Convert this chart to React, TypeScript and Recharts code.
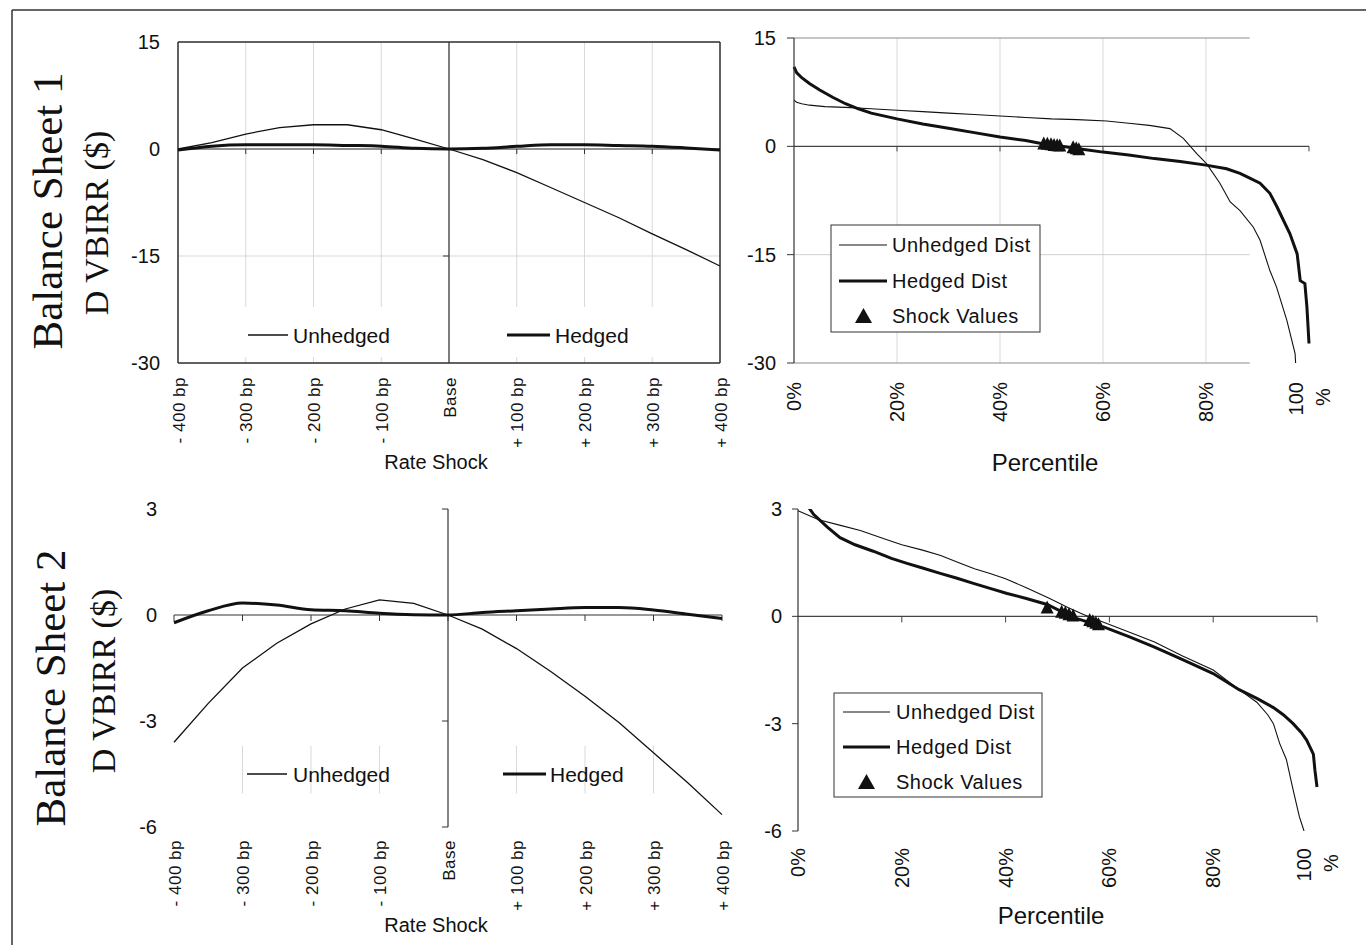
import React from "react";
import {
  ComposedChart,
  Line,
  Scatter,
  XAxis,
  YAxis,
  CartesianGrid,
  ReferenceLine,
} from "recharts";

const SANS = '"Liberation Sans", Arial, sans-serif';
const SERIF = '"Liberation Serif", "Times New Roman", serif';
const INK = "#111";
const AXIS = "#333";

// ---- rate shock panels (left) ----
const shockTicks = [-400, -300, -200, -100, 0, 100, 200, 300, 400];
const shockLabels = [
  "- 400 bp",
  "- 300 bp",
  "- 200 bp",
  "- 100 bp",
  "Base",
  "+ 100 bp",
  "+ 200 bp",
  "+ 300 bp",
  "+ 400 bp",
];
const shockSteps = [
  -400, -350, -300, -250, -200, -150, -100, -50, 0, 50, 100, 150, 200, 250,
  300, 350, 400,
];

const bs1Unhedged = [
  0, 0.9, 2.1, 3.0, 3.4, 3.4, 2.7, 1.4, 0, -1.5, -3.3, -5.4, -7.5, -9.6,
  -11.9, -14.1, -16.4,
];
const bs1Hedged = [
  -0.15, 0.4, 0.6, 0.6, 0.6, 0.5, 0.4, 0.1, 0, 0.1, 0.37, 0.6, 0.6, 0.5, 0.4,
  0.15, -0.15,
];
const bs2Unhedged = [
  -3.6, -2.5, -1.5, -0.8, -0.25, 0.17, 0.43, 0.33, 0, -0.4, -0.95, -1.6, -2.3,
  -3.05, -3.9, -4.75, -5.65,
];
const bs2Hedged = [
  -0.22, 0.12, 0.34, 0.28, 0.15, 0.12, 0.05, 0.01, 0, 0.07, 0.12, 0.17, 0.21,
  0.21, 0.14, 0.02, -0.1,
];

// ---- percentile panels (right) ----
const pctTicks = [0, 20, 40, 60, 80, 100];

const bs1UnhedgedPct = [
  0, 0.5, 1.5, 3, 6, 10, 15, 20, 25, 30, 35, 40, 45, 50, 55, 60.7, 65, 69, 73,
  75.6, 78.2, 80.1, 82.7, 84.7, 86.6, 89.2, 90.5, 92.4, 93.7, 95.7, 97.3, 97.4,
];
const bs1UnhedgedVal = [
  6.4, 6.1, 5.9, 5.7, 5.5, 5.4, 5.2, 5.0, 4.8, 4.6, 4.4, 4.2, 4.0, 3.8, 3.7,
  3.5, 3.2, 2.9, 2.45, 1.1, -1.0, -2.4, -5.1, -7.7, -8.9, -11.2, -13.0, -17.2,
  -19.5, -24.1, -28.7, -30,
];
const bs1HedgedPct = [
  0, 0.5, 1.5, 3, 5, 7.5, 10, 12.5, 15, 20, 25, 30, 35, 40, 45, 48, 52, 56, 60,
  65, 70, 75, 80, 84, 86.6, 88.5, 90.5, 92.4, 93.8, 94.4, 96.3, 97.7, 98.3,
  99.2, 99.6, 100,
];
const bs1HedgedVal = [
  11.0, 10.2, 9.5, 8.7, 7.8, 6.8, 5.9, 5.2, 4.6, 3.8, 3.1, 2.5, 1.9, 1.3, 0.8,
  0.4, 0.0, -0.4, -0.8, -1.2, -1.7, -2.1, -2.6, -3.1, -3.75, -4.4, -5.1, -6.5,
  -8.4, -9.3, -12.1, -14.9, -18.6, -19.0, -22.3, -27.3,
];
const shock1Pct = [48.5, 49.2, 49.9, 50.5, 51.1, 51.6, 54.2, 54.8, 55.3];
const shock1Val = [0.4, 0.35, 0.28, 0.2, 0.14, 0.1, -0.14, -0.25, -0.4];

const bs2UnhedgedPct = [
  0, 4, 8, 12, 17, 20, 24, 27.5, 31, 34, 37, 40, 44, 48.5, 52, 55, 59, 64,
  68.7, 74, 80, 85, 88.4, 90.5, 91.6, 92.8, 94.1, 95.4, 96.6, 97.5,
];
const bs2UnhedgedVal = [
  2.95, 2.7, 2.55, 2.4, 2.15, 2.0, 1.85, 1.7, 1.5, 1.33, 1.2, 1.05, 0.8, 0.5,
  0.25, 0.05, -0.17, -0.45, -0.72, -1.1, -1.5, -2.05, -2.4, -2.75, -3.0, -3.55,
  -4.0, -4.85, -5.6, -6.0,
];
const bs2HedgedPct = [
  1.3, 3, 5.6, 8.1, 11, 14.5, 18, 21, 24, 27.4, 30.5, 33.8, 37, 40.3, 44, 48,
  53, 59, 64, 68.7, 74, 80, 85, 88.5, 91.6, 93.5, 95.4, 97, 98, 99.3, 99.6,
  100,
];
const bs2HedgedVal = [
  3.2, 2.85, 2.5, 2.2, 2.0, 1.82, 1.62, 1.48, 1.35, 1.2, 1.07, 0.92, 0.78,
  0.64, 0.5, 0.33, -0.03, -0.3, -0.58, -0.86, -1.2, -1.6, -2.05, -2.3, -2.55,
  -2.75, -3.0, -3.25, -3.46, -3.85, -4.3, -4.77,
];
const shock2Pct = [48.0, 50.8, 51.5, 52.2, 53.0, 56.2, 56.8, 57.4, 57.9];
const shock2Val = [0.25, 0.13, 0.1, 0.06, 0.02, -0.1, -0.14, -0.18, -0.22];

const pairs = (xs: number[], ys: number[]) =>
  xs.map((x, i) => ({ x, y: ys[i] }));

const yTick = (p: any) => (
  <text
    x={p.x}
    y={p.y}
    textAnchor="end"
    dominantBaseline="central"
    fontFamily={SANS}
    fontSize={20}
    fill={INK}
  >
    {p.payload.value}
  </text>
);

function shockTick(gap: number) {
  return (p: any) => {
    const label = shockLabels[shockTicks.indexOf(p.payload.value)];
    return (
      <text
        transform={`translate(${p.x + 1},${p.y - 8 + gap}) rotate(-90)`}
        textAnchor="end"
        dominantBaseline="central"
        fontFamily={SANS}
        fontSize={17}
        letterSpacing={0.5}
        fill={INK}
      >
        {label}
      </text>
    );
  };
}

function pctTick(gap: number) {
  return (p: any) => {
    const v = p.payload.value;
    const top = p.y - 8 + gap;
    const common = {
      dominantBaseline: "central" as const,
      fontFamily: SANS,
      fontSize: 20,
      fill: INK,
    };
    if (v === 100) {
      return (
        <g>
          <text
            transform={`translate(${p.x - 13},${top}) rotate(-90)`}
            textAnchor="end"
            {...common}
          >
            100
          </text>
          <text
            transform={`translate(${p.x + 14},${top + 15}) rotate(-90)`}
            textAnchor="middle"
            {...common}
          >
            %
          </text>
        </g>
      );
    }
    return (
      <text
        transform={`translate(${p.x},${top}) rotate(-90)`}
        textAnchor="end"
        {...common}
      >
        {v + "%"}
      </text>
    );
  };
}

const triangle = (p: any) => (
  <polygon
    points={`${p.cx},${p.cy - 7} ${p.cx - 6.5},${p.cy + 6} ${p.cx + 6.5},${p.cy + 6}`}
    fill={INK}
  />
);

type ShockProps = {
  width: number;
  height: number;
  margin: { top: number; right: number; bottom: number; left: number };
  yWidth: number;
  xHeight: number;
  domain: [number, number];
  yTicks: number[];
  unhedged: number[];
  hedged: number[];
  boxed: boolean;
  yGap: number;
  xGap: number;
  xTickLen: number;
  yTickLen: number;
};

function ShockChart(p: ShockProps) {
  const inner = [-300, -200, -100, 100, 200, 300];
  return (
    <ComposedChart width={p.width} height={p.height} margin={p.margin}>
      {p.boxed && <CartesianGrid stroke="#d9d9d9" />}
      <XAxis
        type="number"
        dataKey="x"
        domain={[-400, 400]}
        ticks={shockTicks}
        height={p.xHeight}
        axisLine={false}
        tickLine={false}
        tick={shockTick(p.xGap)}
        interval={0}
      />
      <YAxis
        type="number"
        dataKey="y"
        domain={p.domain}
        ticks={p.yTicks}
        width={p.yWidth}
        axisLine={false}
        tickLine={false}
        tickMargin={p.yGap - 6}
        allowDataOverflow
        interval={0}
        tick={yTick}
      />
      {!p.boxed &&
        inner.map((v) => (
          <ReferenceLine
            key={"g" + v}
            segment={[
              { x: v, y: -3.7 },
              { x: v, y: -5.05 },
            ]}
            stroke="#d9d9d9"
          />
        ))}
      {p.boxed && (
        <>
          <ReferenceLine y={p.domain[1]} stroke={AXIS} strokeWidth={1.5} />
          <ReferenceLine y={p.domain[0]} stroke={AXIS} strokeWidth={1.5} />
          <ReferenceLine x={-400} stroke={AXIS} strokeWidth={1.5} />
          <ReferenceLine x={400} stroke={AXIS} strokeWidth={1.5} />
        </>
      )}
      <ReferenceLine y={0} stroke={AXIS} strokeWidth={1.2} />
      <ReferenceLine x={0} stroke={AXIS} strokeWidth={1.2} />
      {(p.boxed ? inner : shockTicks).map((v) => (
        <ReferenceLine
          key={"xt" + v}
          segment={[
            { x: v, y: 0 },
            { x: v, y: -p.xTickLen },
          ]}
          stroke={AXIS}
        />
      ))}
      {(p.boxed ? [p.yTicks[2]] : p.yTicks).map((v) => (
        <ReferenceLine
          key={"yt" + v}
          segment={[
            { x: -p.yTickLen, y: v },
            { x: 0, y: v },
          ]}
          stroke={AXIS}
        />
      ))}
      <Line
        data={pairs(shockSteps, p.unhedged)}
        dataKey="y"
        type="linear"
        stroke={INK}
        strokeWidth={1.3}
        dot={false}
        isAnimationActive={false}
      />
      <Line
        data={pairs(shockSteps, p.hedged)}
        dataKey="y"
        type="monotone"
        stroke={INK}
        strokeWidth={3}
        dot={false}
        isAnimationActive={false}
      />
    </ComposedChart>
  );
}

type PctProps = {
  width: number;
  height: number;
  margin: { top: number; right: number; bottom: number; left: number };
  yWidth: number;
  xHeight: number;
  domain: [number, number];
  yTicks: number[];
  unhedged: { x: number; y: number }[];
  hedged: { x: number; y: number }[];
  shocks: { x: number; y: number }[];
  grid: boolean;
  yGap: number;
  yTickSize: number;
  xGap: number;
  xTickLen: number;
};

function PctChart(p: PctProps) {
  return (
    <ComposedChart width={p.width} height={p.height} margin={p.margin}>
      {p.grid && (
        <CartesianGrid
          stroke="#d9d9d9"
          horizontal={false}
          verticalValues={[20, 40, 60, 80]}
        />
      )}
      <XAxis
        type="number"
        dataKey="x"
        domain={[0, 100]}
        ticks={pctTicks}
        height={p.xHeight}
        axisLine={false}
        tickLine={false}
        tick={pctTick(p.xGap)}
        interval={0}
      />
      <YAxis
        type="number"
        dataKey="y"
        domain={p.domain}
        ticks={p.yTicks}
        width={p.yWidth}
        axisLine={{ stroke: AXIS, strokeWidth: 1.2 }}
        tickLine={{ stroke: AXIS }}
        tickSize={p.yTickSize}
        tickMargin={p.yGap - p.yTickSize}
        allowDataOverflow
        interval={0}
        tick={yTick}
      />
      {p.grid && (
        <>
          <ReferenceLine
            segment={[
              { x: 0, y: p.domain[1] },
              { x: 88.5, y: p.domain[1] },
            ]}
            stroke="#8c8c8c"
          />
          <ReferenceLine
            segment={[
              { x: 0, y: p.yTicks[2] },
              { x: 88.5, y: p.yTicks[2] },
            ]}
            stroke="#d0d0d0"
          />
          <ReferenceLine
            segment={[
              { x: 0, y: p.domain[0] },
              { x: 88.5, y: p.domain[0] },
            ]}
            stroke="#8c8c8c"
          />
        </>
      )}
      <ReferenceLine y={0} stroke="#444" strokeWidth={1.2} />
      {pctTicks.slice(1).map((v) => (
        <ReferenceLine
          key={"xt" + v}
          segment={[
            { x: v, y: 0 },
            { x: v, y: -p.xTickLen },
          ]}
          stroke="#444"
        />
      ))}
      <Line
        data={p.unhedged}
        dataKey="y"
        type="linear"
        stroke={INK}
        strokeWidth={1.1}
        dot={false}
        isAnimationActive={false}
      />
      <Line
        data={p.hedged}
        dataKey="y"
        type="linear"
        stroke={INK}
        strokeWidth={3}
        dot={false}
        isAnimationActive={false}
      />
      <Scatter
        data={p.shocks}
        dataKey="y"
        shape={triangle}
        isAnimationActive={false}
      />
    </ComposedChart>
  );
}

function LegendRow({
  x1,
  x2,
  tx,
  y,
  w,
  label,
  size,
  spacing,
}: {
  x1: number;
  x2: number;
  tx: number;
  y: number;
  w: number;
  label: string;
  size: number;
  spacing: number;
}) {
  return (
    <g>
      {w > 0 ? (
        <line x1={x1} y1={y} x2={x2} y2={y} stroke={INK} strokeWidth={w} />
      ) : (
        <polygon
          points={`${(x1 + x2) / 2},${y - 8} ${(x1 + x2) / 2 - 8.5},${y + 7} ${(x1 + x2) / 2 + 8.5},${y + 7}`}
          fill={INK}
        />
      )}
      <text
        x={tx}
        y={y}
        dominantBaseline="central"
        fontFamily={SANS}
        fontSize={size}
        letterSpacing={spacing}
        fill={INK}
      >
        {label}
      </text>
    </g>
  );
}

export default function App() {
  return (
    <div
      style={{
        position: "absolute",
        left: 0,
        top: 0,
        width: 1366,
        height: 945,
        background: "#fff",
        overflow: "hidden",
      }}
    >
      <div style={{ position: "absolute", left: 110, top: 30 }}>
        <ShockChart
          width={630}
          height={460}
          margin={{ top: 12, right: 20, bottom: 0, left: 0 }}
          yWidth={68}
          xHeight={127}
          domain={[-30, 15]}
          yTicks={[15, 0, -15, -30]}
          unhedged={bs1Unhedged}
          hedged={bs1Hedged}
          boxed
          yGap={18}
          xGap={14}
          xTickLen={0.7}
          yTickLen={8.9}
        />
      </div>
      <div style={{ position: "absolute", left: 110, top: 490 }}>
        <ShockChart
          width={632}
          height={450}
          margin={{ top: 19, right: 20, bottom: 0, left: 0 }}
          yWidth={64}
          xHeight={113}
          domain={[-6, 3]}
          yTicks={[3, 0, -3, -6]}
          unhedged={bs2Unhedged}
          hedged={bs2Hedged}
          boxed={false}
          yGap={17}
          xGap={13}
          xTickLen={0.17}
          yTickLen={8.8}
        />
      </div>
      <div style={{ position: "absolute", left: 730, top: 20 }}>
        <PctChart
          width={620}
          height={470}
          margin={{ top: 18, right: 41, bottom: 0, left: 0 }}
          yWidth={64}
          xHeight={127}
          domain={[-30, 15]}
          yTicks={[15, 0, -15, -30]}
          unhedged={pairs(bs1UnhedgedPct, bs1UnhedgedVal)}
          hedged={pairs(bs1HedgedPct, bs1HedgedVal)}
          shocks={pairs(shock1Pct, shock1Val)}
          grid
          yGap={18}
          yTickSize={7}
          xGap={19}
          xTickLen={0.7}
        />
      </div>
      <div style={{ position: "absolute", left: 730, top: 490 }}>
        <PctChart
          width={630}
          height={450}
          margin={{ top: 19, right: 43, bottom: 0, left: 0 }}
          yWidth={68}
          xHeight={109}
          domain={[-6, 3]}
          yTicks={[3, 0, -3, -6]}
          unhedged={pairs(bs2UnhedgedPct, bs2UnhedgedVal)}
          hedged={pairs(bs2HedgedPct, bs2HedgedVal)}
          shocks={pairs(shock2Pct, shock2Val)}
          grid={false}
          yGap={16}
          yTickSize={6}
          xGap={17}
          xTickLen={0.17}
        />
      </div>

      <svg
        width={1366}
        height={945}
        style={{ position: "absolute", left: 0, top: 0, pointerEvents: "none" }}
      >
        <line x1={12} y1={10} x2={1366} y2={10} stroke={AXIS} strokeWidth={1.5} />
        <line x1={12} y1={10} x2={12} y2={945} stroke={AXIS} strokeWidth={1.5} />

        <text transform="translate(62,211) rotate(-90)" textAnchor="middle" fontFamily={SERIF} fontSize={43} fill={INK}>
          Balance Sheet 1
        </text>
        <text transform="translate(108,223) rotate(-90)" textAnchor="middle" fontFamily={SERIF} fontSize={34} fill={INK}>
          D VBIRR ($)
        </text>
        <text transform="translate(65,688) rotate(-90)" textAnchor="middle" fontFamily={SERIF} fontSize={43} fill={INK}>
          Balance Sheet 2
        </text>
        <text transform="translate(115,681) rotate(-90)" textAnchor="middle" fontFamily={SERIF} fontSize={34} fill={INK}>
          D VBIRR ($)
        </text>

        <text x={436} y={462} textAnchor="middle" dominantBaseline="central" fontFamily={SANS} fontSize={20} fill={INK}>
          Rate Shock
        </text>
        <text x={436} y={925} textAnchor="middle" dominantBaseline="central" fontFamily={SANS} fontSize={20} fill={INK}>
          Rate Shock
        </text>
        <text x={1045} y={462} textAnchor="middle" dominantBaseline="central" fontFamily={SANS} fontSize={24} fill={INK}>
          Percentile
        </text>
        <text x={1051} y={915} textAnchor="middle" dominantBaseline="central" fontFamily={SANS} fontSize={24} fill={INK}>
          Percentile
        </text>

        {/* top-left legend, over a white band */}
        <rect x={185} y={307} width={261} height={50} fill="#fff" />
        <rect x={452} y={307} width={261} height={50} fill="#fff" />
        <LegendRow x1={248} x2={288} tx={293} y={335} w={1.3} label="Unhedged" size={21} spacing={0} />
        <LegendRow x1={507} x2={550} tx={555} y={335} w={3} label="Hedged" size={21} spacing={0} />

        {/* bottom-left legend */}
        <LegendRow x1={247} x2={287} tx={293} y={774} w={1.3} label="Unhedged" size={21} spacing={0} />
        <LegendRow x1={503} x2={546} tx={550} y={774} w={3} label="Hedged" size={21} spacing={0} />

        {/* top-right legend */}
        <rect x={831} y={225} width={209} height={107} fill="#fff" stroke={AXIS} strokeWidth={1} />
        <LegendRow x1={839} x2={887} tx={892} y={245} w={1.1} label="Unhedged Dist" size={20} spacing={0.5} />
        <LegendRow x1={839} x2={887} tx={892} y={281} w={3} label="Hedged Dist" size={20} spacing={0.5} />
        <LegendRow x1={855} x2={872} tx={892} y={316} w={0} label="Shock Values" size={20} spacing={0.5} />

        {/* bottom-right legend */}
        <rect x={834} y={693} width={208} height={104} fill="#fff" stroke={AXIS} strokeWidth={1} />
        <LegendRow x1={843} x2={890} tx={896} y={712} w={1.1} label="Unhedged Dist" size={20} spacing={0.5} />
        <LegendRow x1={843} x2={890} tx={896} y={747} w={3} label="Hedged Dist" size={20} spacing={0.5} />
        <LegendRow x1={858} x2={875} tx={896} y={782} w={0} label="Shock Values" size={20} spacing={0.5} />
      </svg>
    </div>
  );
}
